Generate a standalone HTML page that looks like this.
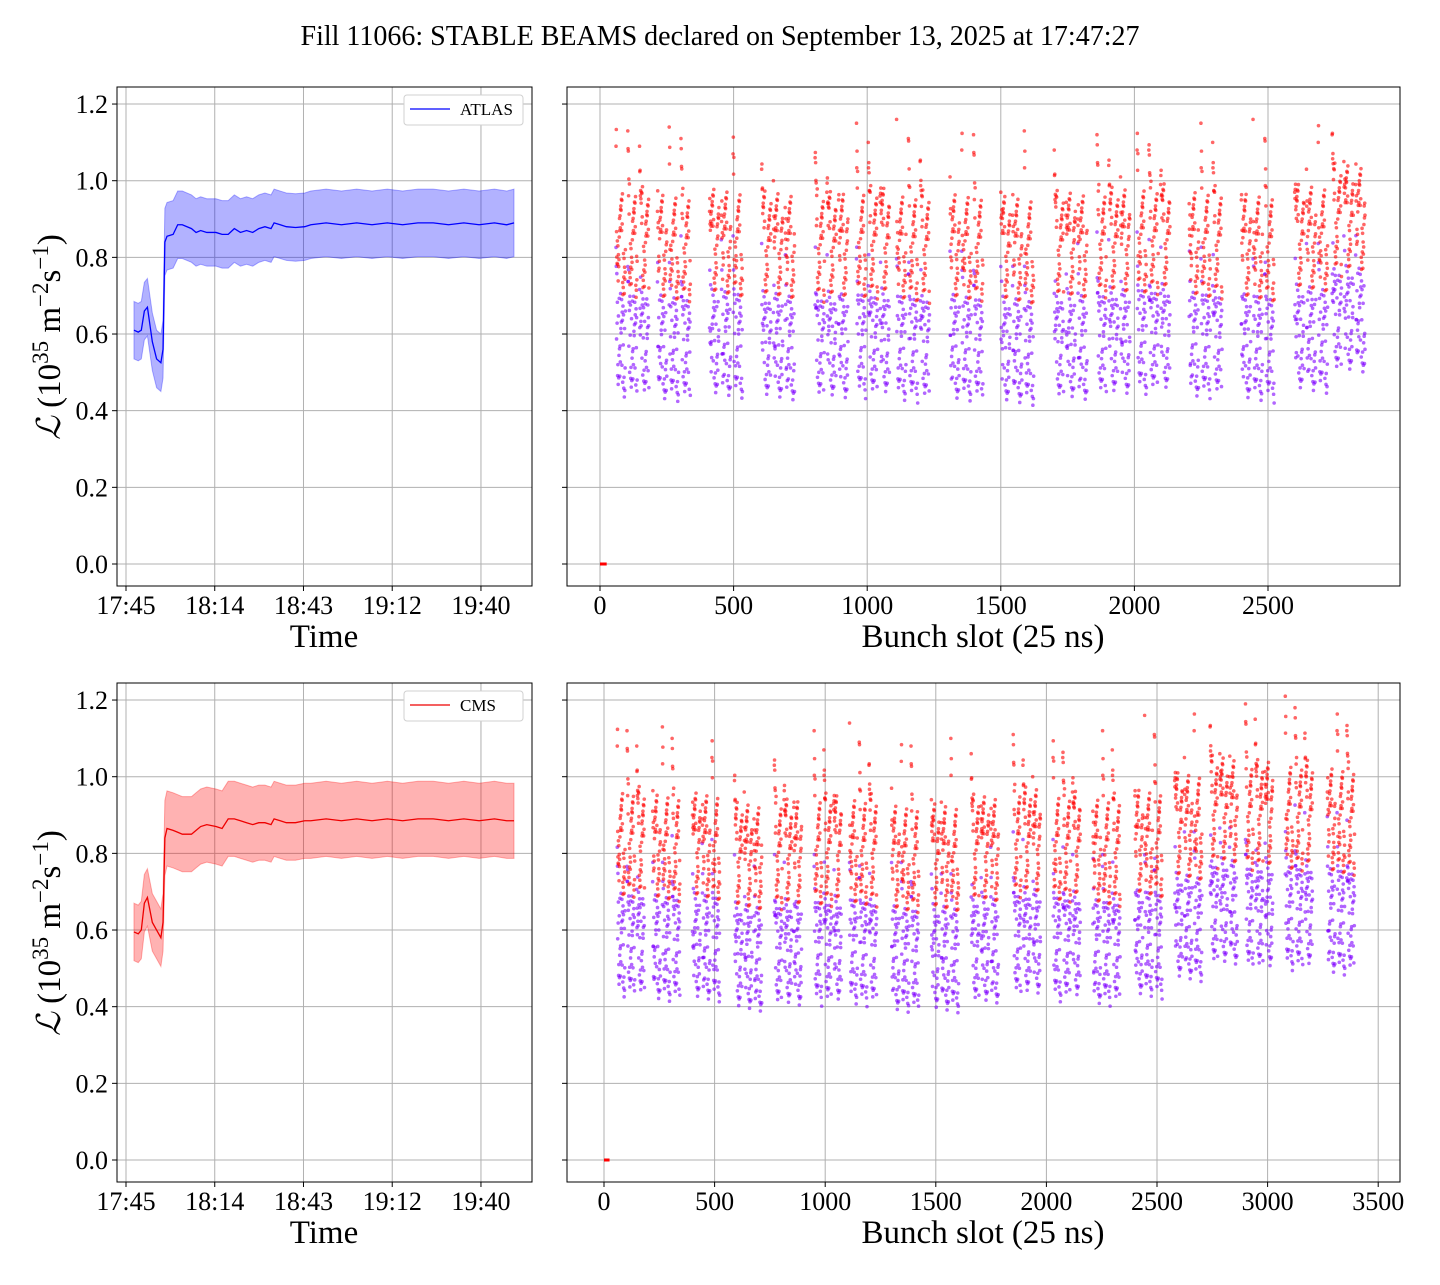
<!DOCTYPE html>
<html><head><meta charset="utf-8"><style>
body{margin:0;background:#fff;}
svg text{font-family:"Liberation Serif",serif;fill:#000;}
</style></head><body>
<svg id="fig" width="1440" height="1280" xmlns="http://www.w3.org/2000/svg">
<text x="720" y="45" font-size="28" text-anchor="middle">Fill 11066: STABLE BEAMS declared on September 13, 2025 at 17:47:27</text>
</svg>
<script>
// ---- data ----
const timeMin = [2.6,4,5,6,7,8.6,10,11.4,12.1,12.7,13.4,15.4,16.9,18.4,21.4,22.9,24.4,26.4,29.4,31.4,33.4,35.4,37.4,39.4,41.4,43.4,45.4,47.4,48.4,50.4,52.4,55.4,58.4,60.4,65.4,70.4,75.4,80.4,85.4,90.4,95.4,100.4,105.4,110.4,115.4,120.4,124.4,126.8];
const atlasVals = [.61,.605,.61,.66,.67,.58,.535,.525,.56,.84,.855,.86,.885,.885,.875,.865,.87,.865,.865,.86,.86,.875,.865,.87,.865,.875,.88,.875,.89,.885,.88,.878,.88,.885,.89,.885,.89,.885,.89,.885,.89,.89,.885,.89,.885,.89,.885,.89];
const cmsVals = [.595,.59,.6,.67,.685,.62,.6,.58,.62,.84,.865,.86,.855,.85,.85,.86,.87,.875,.87,.865,.89,.89,.885,.88,.875,.88,.88,.875,.89,.885,.88,.88,.885,.885,.89,.885,.89,.885,.89,.885,.89,.89,.885,.89,.885,.89,.885,.885];
const atlasErrBefore = 0.075, atlasErrAfter = 0.088;
const cmsErrBefore = 0.075, cmsErrAfter = 0.098;
const timeTicks = [0,29,58,87,116];
const timeTickLabels = ["17:45","18:14","18:43","19:12","19:40"];
const yTicks = [0,0.2,0.4,0.6,0.8,1.0,1.2];
const trainStartsTop = [60,215,410,605,805,960,1110,1310,1500,1700,1860,2010,2205,2400,2600,2740];
const trainLevelTop = [.87,.86,.87,.86,.86,.87,.86,.86,.85,.86,.87,.88,.87,.86,.88,.93];
const trainStartsBot = [60,220,400,590,770,950,1110,1300,1480,1660,1850,2030,2210,2400,2580,2740,2900,3080,3270];
const trainLevelBot = [.86,.85,.85,.82,.83,.84,.84,.82,.82,.84,.86,.85,.84,.86,.9,.94,.93,.93,.92];
const redJitter = [.05,-.08,.11,-.03,.08,-.11,.02,.13,-.06,.03,-.12,.09,-.02,.06,-.1,.0,.11,-.05,.08,-.08,.03,-.13,.05];
const purpleJitter = [-.06,.1,-.03,.08,-.11,.05,-.08,.12,.0,-.1,.06,-.05,.11,-.13,.03,.08,-.02,-.1,.1,-.06,.05,.02,-.11];
const xTicksTop = [0,500,1000,1500,2000,2500];
const xTicksBot = [0,500,1000,1500,2000,2500,3000,3500];

const NS="http://www.w3.org/2000/svg";
const svg=document.getElementById('fig');
function mk(tag,attrs,parent){const e=document.createElementNS(NS,tag);for(const k in attrs)e.setAttribute(k,attrs[k]);(parent||svg).appendChild(e);return e;}

function panel(name){
  const g=mk('g',{});
  
  
  return g;
}
function yAxis(g,x0,x1,ys,labels){
  yTicks.forEach(v=>{
    const y=ys(v);
    const gl=mk('line',{x1:x0,x2:x1,y1:y,y2:y,stroke:'#b0b0b0','stroke-width':1},g);
    
    
    const tk=mk('line',{x1:x0-5,x2:x0,y1:y,y2:y,stroke:'#000','stroke-width':1},g);
    
    
    if(labels){
      const t=mk('text',{x:x0-9,y:y+9,'font-size':26,'text-anchor':'end'},g);
      t.textContent=v.toFixed(1);
      
      
    }
  });
}
function xAxis(g,ticks,labels,xs,y0,y1){
  ticks.forEach((v,i)=>{
    const x=xs(v);
    const gl=mk('line',{x1:x,x2:x,y1:y0,y2:y1,stroke:'#b0b0b0','stroke-width':1},g);
    
    
    const tk=mk('line',{x1:x,x2:x,y1:y1,y2:y1+5,stroke:'#000','stroke-width':1},g);
    
    
    const t=mk('text',{x:x,y:y1+28,'font-size':26,'text-anchor':'middle'},g);
    t.textContent=labels[i];
    
    
  });
}
function frame(g,x0,y0,x1,y1){
  const r=mk('rect',{x:x0,y:y0,width:x1-x0,height:y1-y0,fill:'none',stroke:'#000','stroke-width':1},g);
  
  
}
function label(g,txt,x,y,name){
  const t=mk('text',{x:x,y:y,'font-size':33,'text-anchor':'middle'},g);
  t.textContent=txt;
  
  
}
function ylabel(g,cy){
  const t=mk('text',{x:0,y:0,'font-size':33,'text-anchor':'middle',transform:`translate(60,${cy}) rotate(-90)`},g);
  t.innerHTML='<tspan font-style="italic">ℒ</tspan> (10<tspan dy="-12" font-size="23">35</tspan><tspan dy="12"> m</tspan><tspan dy="-12" font-size="23">−2</tspan><tspan dy="12">s</tspan><tspan dy="-12" font-size="23">−1</tspan><tspan dy="12">)</tspan>';
  
  
}

function timePanel(y0,vals,eb,ea,color,fill,legendName,name){
  const X0=117,X1=532,Y1=y0+499;
  const yBase=y0+477;
  const ys=v=>yBase-v*383.3;
  const xs=m=>126+m*3.06;
  const g=panel(name);
  yAxis(g,X0,X1,ys,true);
  xAxis(g,timeTicks,timeTickLabels,xs,y0,Y1);
  const n=Math.min(timeMin.length,vals.length);
  let up=[],dn=[],ln=[];
  for(let i=0;i<n;i++){
    const e=timeMin[i]<12.5?eb:ea;
    up.push(xs(timeMin[i])+','+ys(vals[i]+e));
    dn.unshift(xs(timeMin[i])+','+ys(vals[i]-e));
    ln.push(xs(timeMin[i])+','+ys(vals[i]));
  }
  const band=mk('polygon',{points:up.concat(dn).join(' '),fill:fill,'fill-opacity':0.3,stroke:fill,'stroke-opacity':0.3},g);
  
  
  const line=mk('polyline',{points:ln.join(' '),fill:'none',stroke:color,'stroke-width':1.3},g);
  
  
  frame(g,X0,y0,X1,Y1);
  const lg=mk('g',{},g);
  
  
  mk('rect',{x:404,y:y0+8,width:119,height:30,rx:3,fill:'#fff',stroke:'#d0d0d0'},lg);
  mk('line',{x1:410,x2:450,y1:y0+22,y2:y0+22,stroke:color,'stroke-width':1.3},lg);
  const lt=mk('text',{x:460,y:y0+28,'font-size':17},lg);
  lt.textContent=legendName;
  
  
  label(g,'Time',324,Y1+61,'x-axis-title');
  ylabel(g,y0+250);
}

function bunchPanel(y0,starts,levels,ticks,x0px,pxPer500,name){
  const X0=567,X1=1400,Y1=y0+499;
  const yBase=y0+477;
  const ys=v=>yBase-v*383.3;
  const xs=s=>x0px+s*pxPer500/500;
  const g=panel(name);
  yAxis(g,X0,X1,ys,false);
  xAxis(g,ticks,ticks.map(String),xs,y0,Y1);
  const pts=mk('g',{},g);
  
  
  starts.forEach((s,t)=>{
    const lvl=levels[t];
    for(let b=0;b<3;b++){
      for(let i=0;i<36;i++){
        const slot=s+b*44+i;
        const peak=i<5?(0.17-i*0.035):0;
        const drift=-0.05*i/35;
        const k=(i*7+t*5+b*11)%redJitter.length;
        const rv=lvl+peak+drift+redJitter[k];
        const pv=lvl-0.26+peak*0.8+drift+purpleJitter[(k+3)%purpleJitter.length];
        const c1=mk('circle',{cx:xs(slot),cy:ys(pv),r:1.8,fill:'#7f00ff','fill-opacity':0.6},pts);
        
        
        const c2=mk('circle',{cx:xs(slot),cy:ys(rv),r:1.8,fill:'#ff0000','fill-opacity':0.6},pts);
        
        
      }
    }
  });
  const z=mk('line',{x1:xs(0),x2:xs(25),y1:ys(0),y2:ys(0),stroke:'#ff0000','stroke-width':3},pts);
  
  
  frame(g,X0,y0,X1,Y1);
  label(g,'Bunch slot (25 ns)',983,Y1+61,'x-axis-title');
}

timePanel(87,atlasVals,atlasErrBefore,atlasErrAfter,'#0000ff','#0000ff','ATLAS','atlas-time-panel');
bunchPanel(87,trainStartsTop,trainLevelTop,xTicksTop,600,133.6,'atlas-bunch-panel');
timePanel(683,cmsVals,cmsErrBefore,cmsErrAfter,'#ee0000','#ff0000','CMS','cms-time-panel');
bunchPanel(683,trainStartsBot,trainLevelBot,xTicksBot,604,110.6,'cms-bunch-panel');
</script>
</body></html>
